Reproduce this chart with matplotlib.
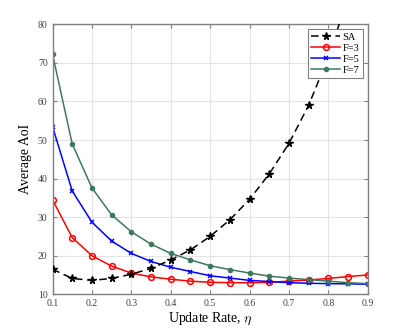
import matplotlib

matplotlib.use("Agg")
import matplotlib.pyplot as plt

# Update rate values
eta = [0.1, 0.15, 0.2, 0.25, 0.3, 0.35, 0.4, 0.45, 0.5,
       0.55, 0.6, 0.65, 0.7, 0.75, 0.8, 0.85, 0.9]

# Average AoI per scheme
aoi_sa = [16.5, 14.1, 13.6, 14.1, 15.2, 16.7, 18.9, 21.5, 25.0,
          29.3, 34.6, 41.2, 49.1, 59.0, 71.5, 87.0, 106.0]
aoi_f3 = [34.5, 24.7, 20.0, 17.3, 15.5, 14.5, 13.9, 13.4, 13.1,
          13.0, 13.0, 13.1, 13.4, 13.7, 14.1, 14.6, 15.0]
aoi_f5 = [53.5, 36.8, 28.7, 23.8, 20.6, 18.5, 17.0, 15.9, 14.8,
          14.2, 13.6, 13.3, 13.0, 12.85, 12.75, 12.7, 12.6]
aoi_f7 = [72.3, 49.0, 37.6, 30.6, 26.2, 23.0, 20.6, 18.9, 17.4,
          16.4, 15.5, 14.7, 14.2, 13.8, 13.4, 13.0, 12.75]

xticks = [0.1, 0.2, 0.3, 0.4, 0.5, 0.6, 0.7, 0.8, 0.9]
yticks = [10, 20, 30, 40, 50, 60, 70, 80]

plt.rcParams["font.family"] = ["Liberation Serif", "DejaVu Serif"]
plt.rcParams["mathtext.fontset"] = "cm"

fig = plt.figure(figsize=(4.07, 3.31), dpi=100)
ax = fig.add_axes([0.129, 0.111, 0.7745, 0.8155])

ax.plot(eta, aoi_sa, color="black", linestyle=(0, (5, 3)), linewidth=1.1,
        marker="*", markersize=5.5, label="SA", zorder=3)
ax.plot(eta, aoi_f3, color="#ff0000", linewidth=1.1, marker="o",
        markersize=4.2, markerfacecolor="none", markeredgewidth=1.1,
        label="F=3")
ax.plot(eta, aoi_f5, color="#0000ff", linewidth=1.1, marker="x",
        markersize=3, markeredgewidth=1.1, label="F=5")
ax.plot(eta, aoi_f7, color="#3d7a5c", linewidth=1.1, marker="o",
        markersize=3, label="F=7")

ax.set_xlim(0.1, 0.9)
ax.set_ylim(10, 80)
ax.set_xticks(xticks)
ax.set_yticks(yticks)
ax.set_xticklabels([f"{v:g}" for v in xticks])
ax.grid(True, color="#e3e3e3", linewidth=0.8)
ax.set_axisbelow(True)

for side in ["left", "bottom", "top", "right"]:
    ax.spines[side].set_color("#808080")
    ax.spines[side].set_linewidth(1.0)
ax.tick_params(direction="in", length=3, width=0.8, color="#808080",
               labelsize=7, labelcolor="#404040", top=True, right=True)

ax.set_xlabel("Update Rate, $\\eta$", fontsize=10, labelpad=2)
ax.set_ylabel("Average AoI", fontsize=10, labelpad=4)

leg = ax.legend(loc="upper right", fontsize=7.5, fancybox=False,
                edgecolor="#808080", framealpha=1.0, handlelength=2.8,
                borderaxespad=0.45, labelspacing=0.15, handletextpad=0.2,
                borderpad=0.35)
leg.get_frame().set_linewidth(0.8)
leg.set_zorder(5)

plt.savefig("out.png", dpi=100)
plt.close()
